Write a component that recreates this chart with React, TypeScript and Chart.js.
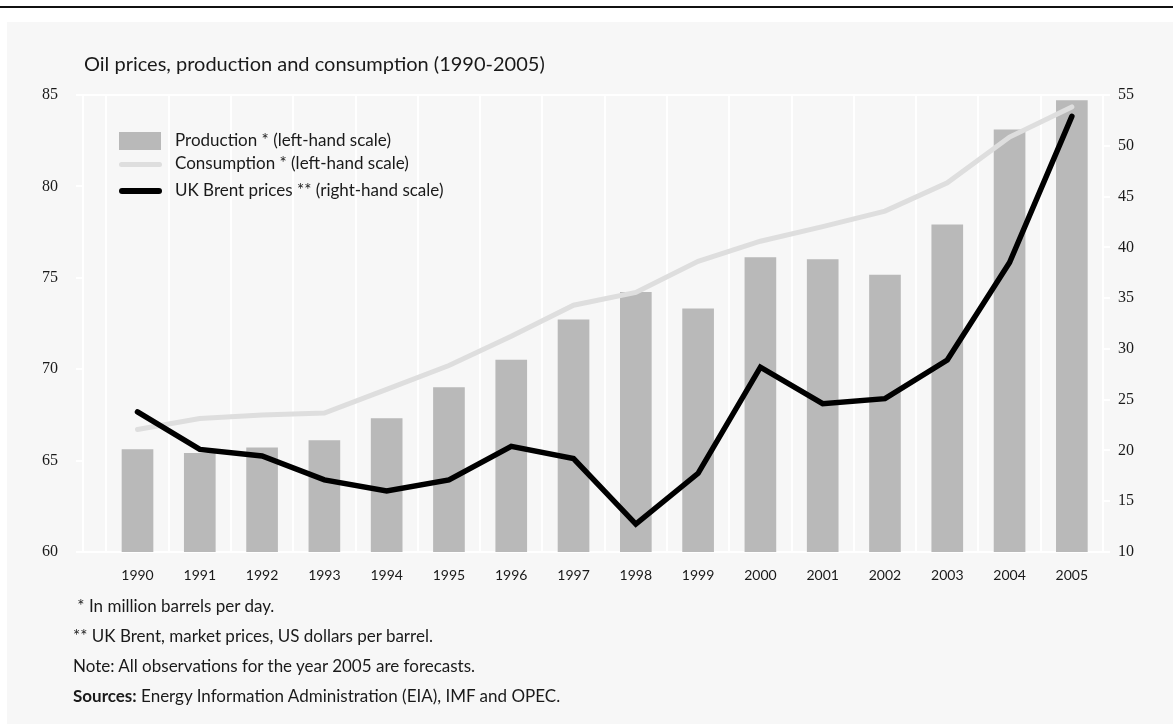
import React, { useEffect, useRef } from "react";
import { Chart, registerables } from "chart.js";

Chart.register(...registerables);

const years = [1990, 1991, 1992, 1993, 1994, 1995, 1996, 1997, 1998, 1999, 2000, 2001, 2002, 2003, 2004, 2005];
const production = [65.6, 65.4, 65.7, 66.1, 67.3, 69.0, 70.5, 72.7, 74.2, 73.3, 76.1, 76.0, 75.15, 77.9, 83.1, 84.7];
const consumption = [66.7, 67.3, 67.5, 67.6, 68.9, 70.2, 71.8, 73.5, 74.2, 75.9, 77.0, 77.8, 78.65, 80.2, 82.7, 84.35];
const brent = [23.8, 20.1, 19.45, 17.1, 16.0, 17.1, 20.4, 19.2, 12.75, 17.75, 28.2, 24.6, 25.1, 28.9, 38.5, 52.9];

const title = "Oil prices, production and consumption (1990-2005)";
const legendLabels = [
  "Production * (left-hand scale)",
  "Consumption * (left-hand scale)",
  "UK Brent prices ** (right-hand scale)",
];
const notes = [
  " * In million barrels per day.",
  "** UK Brent, market prices, US dollars per barrel.",
  "Note: All observations for the year 2005 are forecasts.",
];
const sourcesLabel = "Sources:";
const sourcesText = " Energy Information Administration (EIA), IMF and OPEC.";

const SANS = "Lato, 'Open Sans', sans-serif";
const SERIF = "'Liberation Serif', 'DejaVu Serif', serif";
const BAR = "#b9b9b9";
const CONS = "#dedede";
const TEXT = "#1a1a1a";

export default function App() {
  const ref = useRef<HTMLCanvasElement | null>(null);

  useEffect(() => {
    document.body.style.margin = "0";
    const canvas = ref.current;
    if (!canvas) return;
    const chart = new Chart(canvas, {
      type: "bar",
      data: {
        datasets: [
          {
            type: "line",
            label: legendLabels[2],
            data: brent.map((v, i) => ({ x: years[i], y: v })),
            yAxisID: "y1",
            xAxisID: "x",
            borderColor: "#000",
            borderWidth: 5.5,
            pointRadius: 0,
            borderJoinStyle: "miter",
            borderCapStyle: "round",
            tension: 0,
            order: 1,
          } as any,
          {
            type: "line",
            label: legendLabels[1],
            data: consumption.map((v, i) => ({ x: years[i], y: v })),
            yAxisID: "y",
            xAxisID: "x",
            borderColor: CONS,
            borderWidth: 5,
            pointRadius: 0,
            borderCapStyle: "round",
            tension: 0,
            order: 2,
          } as any,
          {
            type: "bar",
            label: legendLabels[0],
            data: production.map((v, i) => ({ x: years[i], y: v })),
            yAxisID: "y",
            xAxisID: "x",
            backgroundColor: BAR,
            borderWidth: 0,
            barThickness: 31,
            order: 3,
          } as any,
        ],
      },
      options: {
        responsive: false,
        animation: false,
        layout: { padding: { top: 95, left: 0, right: 0, bottom: 0 } },
        plugins: { legend: { display: false }, tooltip: { enabled: false }, title: { display: false } },
        scales: {
          x: {
            type: "linear",
            position: "bottom",
            offset: false,
            min: 1989.125,
            max: 2005.5,
            afterBuildTicks: (s: any) => {
              s.ticks = years.map((v) => ({ value: v }));
            },
            afterFit: (s: any) => {
              s.height = 172;
            },
            ticks: {
              callback: (v: any) => String(v),
              font: { family: SANS, size: 14 },
              color: TEXT,
              padding: 15,
              maxRotation: 0,
              autoSkip: false,
            },
            grid: { display: false, drawTicks: false, offset: false },
            border: { display: true, color: "#ffffff", width: 2 },
          },
          xg: {
            type: "linear",
            position: "top",
            offset: false,
            min: 1989.125,
            max: 2005.5,
            afterBuildTicks: (s: any) => {
              s.ticks = [1989, ...years].map((v) => ({ value: v + 0.5 }));
            },
            afterFit: (s: any) => {
              s.height = 0;
            },
            ticks: { display: false },
            grid: { color: "#ffffff", lineWidth: 2, drawTicks: false, offset: false },
            border: { display: true, color: "#ffffff", width: 2 },
          },
          y: {
            position: "left",
            min: 60,
            max: 85,
            afterFit: (s: any) => {
              s.width = 83;
            },
            ticks: { stepSize: 5, font: { family: SERIF, size: 16 }, color: TEXT, padding: 18 },
            grid: { drawOnChartArea: false, color: "#ffffff", lineWidth: 2, tickLength: 7 },
            border: { display: true, color: "#ffffff", width: 2 },
          },
          y1: {
            position: "right",
            min: 10,
            max: 55,
            afterFit: (s: any) => {
              s.width = 70;
            },
            ticks: { stepSize: 5, font: { family: SERIF, size: 16 }, color: TEXT, padding: 8 },
            grid: { drawOnChartArea: false, color: "#ffffff", lineWidth: 2, tickLength: 7 },
            border: { display: true, color: "#ffffff", width: 2 },
          },
        } as any,
      },
    });
    return () => chart.destroy();
  }, []);

  const legendRow = (i: number, top: number) => {
    let sample: React.ReactNode;
    if (i === 0) {
      sample = <div style={{ position: "absolute", left: 0, top: -9, width: 42, height: 18, background: BAR }} />;
    } else {
      const h = i === 1 ? 5 : 6;
      sample = (
        <div
          style={{
            position: "absolute",
            left: 0,
            top: -h / 2,
            width: 43,
            height: h,
            borderRadius: h / 2,
            background: i === 1 ? CONS : "#000",
          }}
        />
      );
    }
    return (
      <div key={i} style={{ position: "absolute", left: 119, top }}>
        {sample}
        <div
          style={{
            position: "absolute",
            left: 56,
            top: -12,
            whiteSpace: "nowrap",
            font: `17px ${SANS}`,
            lineHeight: "22px",
            color: TEXT,
          }}
        >
          {legendLabels[i]}
        </div>
      </div>
    );
  };

  return (
    <div style={{ position: "relative", width: 1173, height: 724, background: "#fff", overflow: "hidden" }}>
      <div style={{ position: "absolute", left: 0, top: 6, width: 1173, height: 2, background: "#111" }} />
      <div style={{ position: "absolute", left: 7, top: 22, right: 0, bottom: 0, background: "#f7f7f7" }} />
      <canvas ref={ref} width={1173} height={724} style={{ position: "absolute", left: 0, top: 0 }} />
      <div
        style={{
          position: "absolute",
          left: 84,
          top: 50,
          font: `20px ${SANS}`,
          lineHeight: "26px",
          color: TEXT,
          whiteSpace: "nowrap",
        }}
      >
        {title}
      </div>
      {legendRow(0, 141)}
      {legendRow(1, 164)}
      {legendRow(2, 191)}
      <div style={{ position: "absolute", left: 73, top: 591, font: `17px ${SANS}`, color: TEXT, lineHeight: "30px", whiteSpace: "pre" }}>
        {notes.map((n, i) => (
          <div key={i}>{n}</div>
        ))}
        <div>
          <b>{sourcesLabel}</b>
          {sourcesText}
        </div>
      </div>
    </div>
  );
}
